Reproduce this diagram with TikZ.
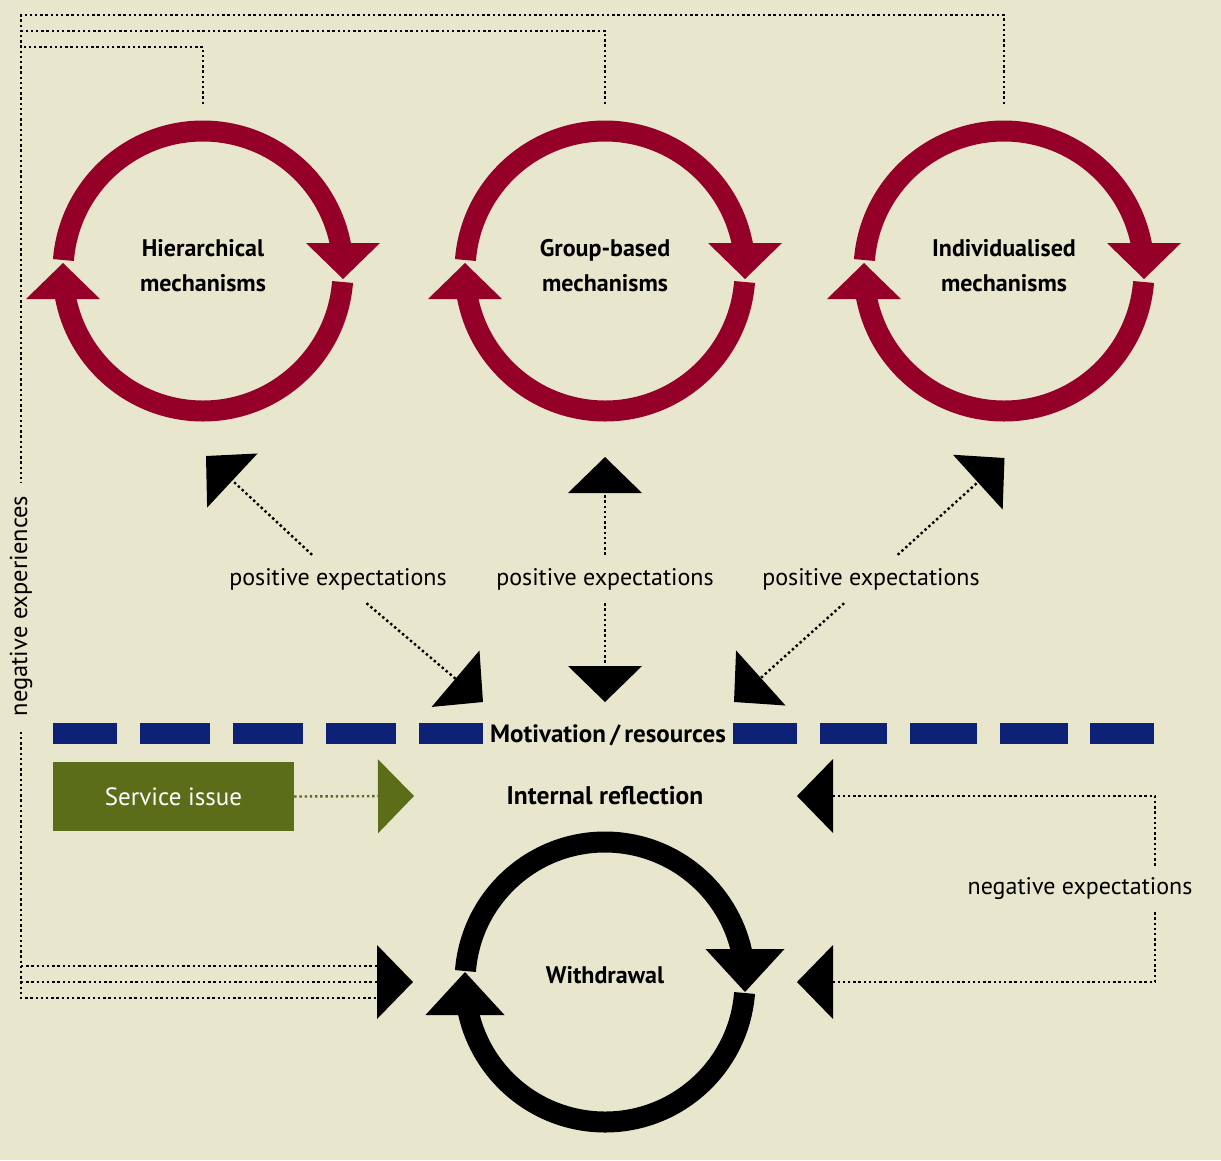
\documentclass[tikz,border=0pt]{standalone}
\usepackage{fontspec}
\setmainfont{PT Sans}
\usetikzlibrary{arrows.meta}

\definecolor{bg}{RGB}{232,230,205}
\definecolor{ringred}{RGB}{149,0,40}
\definecolor{dashblue}{RGB}{13,34,119}
\definecolor{issuegreen}{RGB}{92,109,26}

\tikzset{
    ringarc/.style={line width=21pt},
    dotline/.style={line width=2.4pt, dash pattern=on 2.4pt off 2.8pt},
    bigtip/.style={-{Triangle[width=74pt, length=36pt, line width=0pt]}},
    mechtext/.style={font=\fontsize{24}{35}\selectfont\bfseries, align=center},
    exptext/.style={font=\fontsize{24}{28}\selectfont, inner sep=0pt, minimum height=48pt},
}

\begin{document}
\begin{tikzpicture}[x=1pt, y=-1pt, line cap=butt]

    \useasboundingbox (0,0) rectangle (1221,1160);
    \fill[bg] (0,0) rectangle (1221,1160);

    \begin{scope}[shift={(203,271)}, ringred]
        \draw[ringarc] (184.5:140) arc[start angle=184.5, end angle=350, radius=140];
        \draw[ringarc] (4.5:140) arc[start angle=4.5, end angle=170, radius=140];
        \fill (140,8) -- (103,-28) -- (177,-28) -- cycle;
        \fill (-140,-8) -- (-103,28) -- (-177,28) -- cycle;
    \end{scope}

    \begin{scope}[shift={(605,271)}, ringred]
        \draw[ringarc] (184.5:140) arc[start angle=184.5, end angle=350, radius=140];
        \draw[ringarc] (4.5:140) arc[start angle=4.5, end angle=170, radius=140];
        \fill (140,8) -- (103,-28) -- (177,-28) -- cycle;
        \fill (-140,-8) -- (-103,28) -- (-177,28) -- cycle;
    \end{scope}

    \begin{scope}[shift={(1004,271)}, ringred]
        \draw[ringarc] (184.5:140) arc[start angle=184.5, end angle=350, radius=140];
        \draw[ringarc] (4.5:140) arc[start angle=4.5, end angle=170, radius=140];
        \fill (140,8) -- (103,-28) -- (177,-28) -- cycle;
        \fill (-140,-8) -- (-103,28) -- (-177,28) -- cycle;
    \end{scope}

    \begin{scope}[shift={(605,982)}, black]
        \draw[ringarc] (184.5:140) arc[start angle=184.5, end angle=350, radius=140];
        \draw[ringarc] (4.5:140) arc[start angle=4.5, end angle=170, radius=140];
        \fill (140,10) -- (100.5,-33) -- (179.5,-33) -- cycle;
        \fill (-140,-10) -- (-100.5,33) -- (-179.5,33) -- cycle;
    \end{scope}

    \node[mechtext] (hier) at (203,266) {Hierarchical\\mechanisms};
    \node[mechtext] (group) at (605,266) {Group-based\\mechanisms};
    \node[mechtext] (indiv) at (1004,266) {Individualised\\mechanisms};
    \node[mechtext] (withdraw) at (605,975) {Withdrawal};

    \coordinate (hiertop) at (203,104);
    \coordinate (grouptop) at (605,104);
    \coordinate (indivtop) at (1004,104);
    \coordinate (hiertip) at (206,456);
    \coordinate (grouptip) at (605,457);
    \coordinate (indivtip) at (1004.5,458);
    \coordinate (motivleft) at (483,702);
    \coordinate (motivmid) at (605,702);
    \coordinate (motivright) at (734,702);
    \coordinate (reflin) at (414,796);
    \coordinate (reflout) at (797,796);
    \coordinate (within) at (413,982);
    \coordinate (without) at (797,982);

    % motivation / resources bar
    \foreach \xa/\xb in {53/117, 140/210, 233/303, 326/396, 419/483, 733/797, 820/887, 910/977, 1000/1068, 1090/1154}
        \fill[dashblue] (\xa,723) rectangle (\xb,744);
    \node[mechtext, font=\fontsize{25}{30}\selectfont\bfseries] (motiv) at (608,735) {Motivation\,/\,resources};
    \node[mechtext, font=\fontsize{25.5}{30}\selectfont\bfseries] (reflect) at (605,796) {Internal reflection};

    \node[fill=issuegreen, text=white, font=\fontsize{25}{30}\selectfont, minimum width=241pt, minimum height=69pt, inner sep=0pt] (issue) at (173.5,796.5) {Service issue};
    \draw[dotline, issuegreen, bigtip] (issue.east) -- (reflin);

    \node[exptext] (pe1) at (338,579) {positive expectations};
    \node[exptext] (pe2) at (605,579) {positive expectations};
    \node[exptext] (pe3) at (871,579) {positive expectations};

    \draw[dotline, bigtip] (pe1) -- (hiertip);
    \draw[dotline, bigtip] (pe1) -- (motivleft);
    \draw[dotline, bigtip] (pe2) -- (grouptip);
    \draw[dotline, bigtip] (pe2) -- (motivmid);
    \draw[dotline, bigtip] (pe3) -- (indivtip);
    \draw[dotline, bigtip] (pe3) -- (motivright);

    % negative experiences loop
    \draw[dotline] (hiertop) |- (21,47);
    \draw[dotline] (grouptop) |- (21,31);
    \draw[dotline] (indivtop) |- (21,15) -- (21,998) -- (377,998);
    \draw[dotline] (21,966) -- (377,966);
    \draw[dotline, bigtip] (21,982) -- (within);
    \node[font=\fontsize{24.5}{28}\selectfont, fill=bg, rotate=90, inner xsep=13pt, inner ysep=3pt] (negexper) at (21,606) {negative experiences};

    \node[exptext, minimum height=46pt] (negexp) at (1080,889) {negative expectations};
    \draw[dotline, bigtip] (negexp.north -| 1155,0) |- (reflout);
    \draw[dotline, bigtip] (negexp.south -| 1155,0) |- (without);

\end{tikzpicture}
\end{document}
